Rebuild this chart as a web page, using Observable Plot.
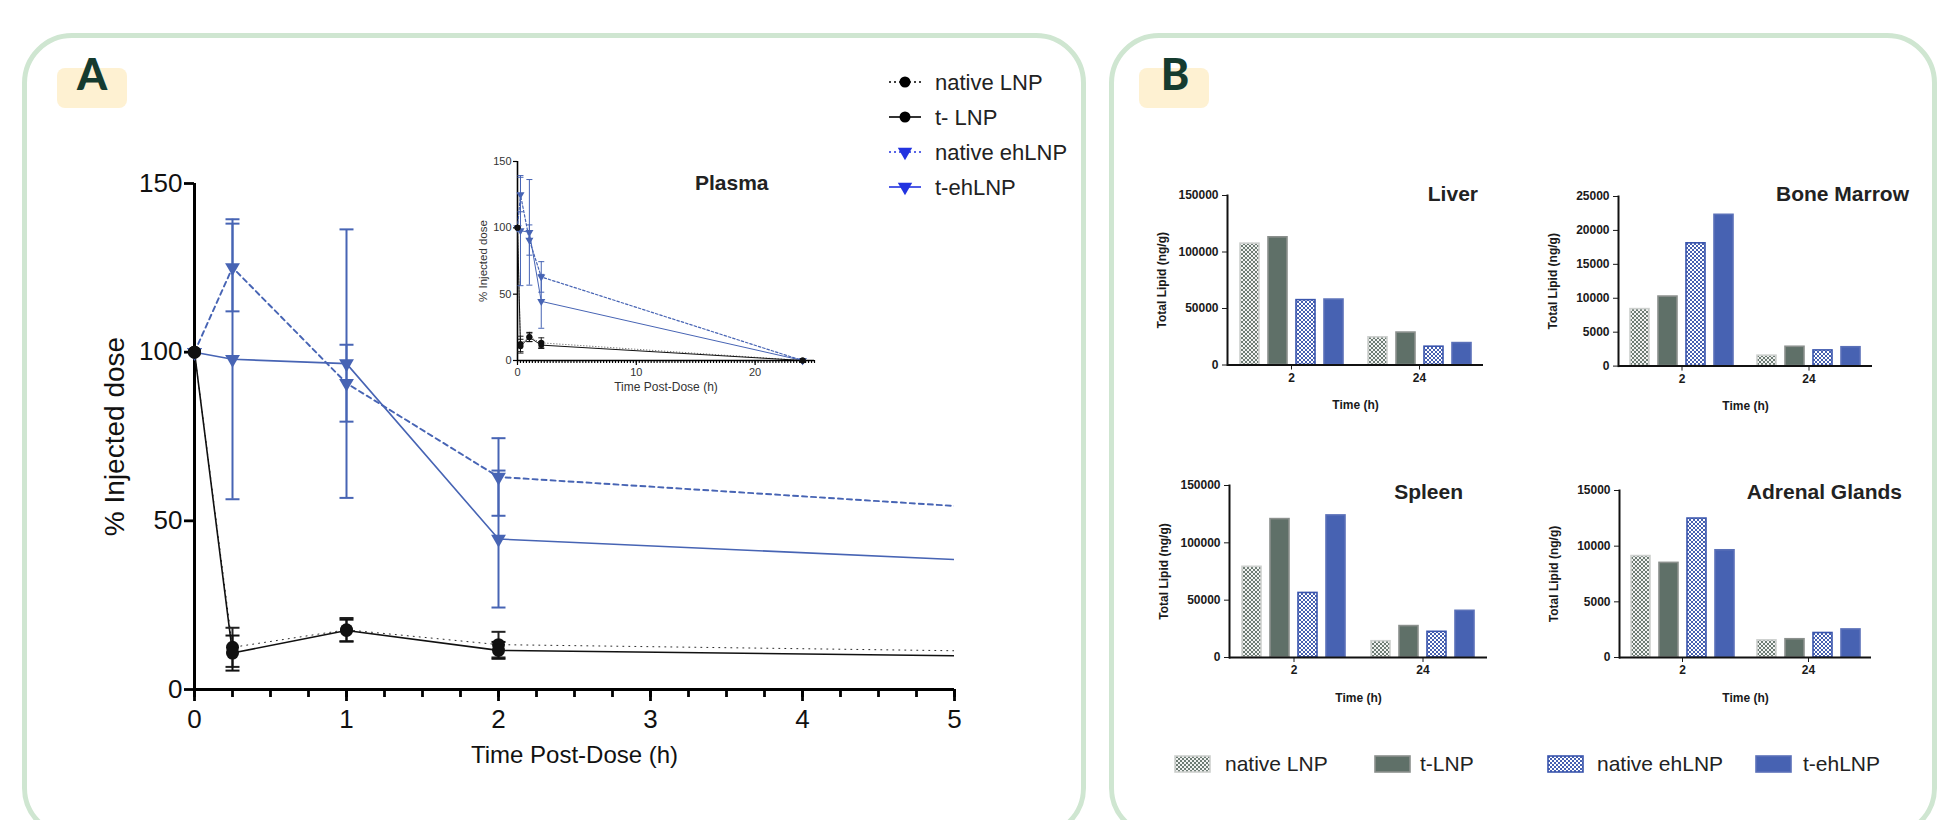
<!DOCTYPE html>
<html><head><meta charset="utf-8">
<script src="https://cdn.jsdelivr.net/npm/d3@7"></script>
<script src="https://cdn.jsdelivr.net/npm/@observablehq/plot@0.6"></script>
<style>
html,body{margin:0;padding:0;background:#fff;}
#page{position:relative;width:1937px;height:820px;overflow:hidden;background:#fff;font-family:"Liberation Sans",Arial,sans-serif;}
.card{position:absolute;border:5px solid #cfe6d1;border-radius:50px;box-sizing:border-box;}
#overlay{position:absolute;left:0;top:0;pointer-events:none;}
</style></head><body><div id="page">
<div class="card" style="left:22px;top:33px;width:1064px;height:805px;"></div>
<div class="card" style="left:1109px;top:33px;width:828px;height:805px;"></div>
</div>
<script>
// ---------- Panel A data (plasma PK) ----------
const timeA = [0, 0.25, 1, 2, 24];
const seriesA = ["native LNP", "t- LNP", "native ehLNP", "t-ehLNP"];
const nativeLNP    = [100, 12.5, 17.7, 13.3, 0];
const nativeLNP_sd = [0, 5.8, 3.5, 3.8, 0];
const tLNP         = [100, 10.8, 17.5, 11.6, 0];
const tLNP_sd      = [0, 5.2, 3.2, 2.5, 0];
const nativeEhLNP    = [100, 125.1, 90.8, 63.0, 0];
const nativeEhLNP_sd = [0, 13.0, 11.4, 11.5, 0];
const tEhLNP         = [100, 97.9, 96.6, 44.6, 0];
const tEhLNP_sd      = [0, 41.5, 39.8, 20.3, 0];
const yTicksA = [0, 50, 100, 150];
const xTicksMain = [0, 1, 2, 3, 4, 5];
const xTicksInset = [0, 10, 20];

// ---------- Panel B data (tissue lipid, ng/g) ----------
const timesB = ["2", "24"];
const seriesB = ["native LNP", "t-LNP", "native ehLNP", "t-ehLNP"];
const liver_2h  = [107400, 113000, 57400, 57900];
const liver_24h = [24500, 28700, 16200, 19400];
const marrow_2h  = [8400, 10250, 18100, 22300];
const marrow_24h = [1540, 2850, 2310, 2780];
const spleen_2h  = [79100, 120700, 56300, 123900];
const spleen_24h = [14200, 27400, 22400, 40700];
const adrenal_2h  = [9110, 8500, 12480, 9630];
const adrenal_24h = [1540, 1640, 2200, 2520];
const liverTicks = [0, 50000, 100000, 150000];
const marrowTicks = [0, 5000, 10000, 15000, 20000, 25000];
const spleenTicks = [0, 50000, 100000, 150000];
const adrenalTicks = [0, 5000, 10000, 15000];

// ---------- styles ----------
const BLUE = "#4764b4";
const TICK = "#000";
const valuesA = {"native LNP": nativeLNP, "t- LNP": tLNP, "native ehLNP": nativeEhLNP, "t-ehLNP": tEhLNP};
const sdA = {"native LNP": nativeLNP_sd, "t- LNP": tLNP_sd, "native ehLNP": nativeEhLNP_sd, "t-ehLNP": tEhLNP_sd};
const styleA = {
  "native LNP": {color: "#222", dash: "1,5", w: 0.6, tri: false},
  "t- LNP": {color: "#111", dash: null, w: 1, tri: false},
  "native ehLNP": {color: BLUE, dash: "5,4", w: 1.2, tri: true},
  "t-ehLNP": {color: BLUE, dash: null, w: 1, tri: true}
};
const barFill = {"native LNP": "url(#chkGrey)", "t-LNP": "#5f7068", "native ehLNP": "url(#chkBlue)", "t-ehLNP": "#4762b2"};
const barStroke = {"native LNP": "#cdd0ce", "t-LNP": "#8b908d", "native ehLNP": "#3a55ad", "t-ehLNP": "#5a70b8"};

const capSymbol = {draw(ctx, size) { const r = Math.sqrt(size / Math.PI); ctx.moveTo(-r, 0); ctx.lineTo(r, 0); }};

const page = document.getElementById("page");
function place(node, left, top) {
  node.style.position = "absolute"; node.style.left = left + "px"; node.style.top = top + "px";
  page.appendChild(node);
}

const W = 1937, H = 820;
const overlay = d3.create("svg").attr("id", "overlay").attr("width", W).attr("height", H);
const defs = overlay.append("defs");
function checker(id, dark, light) {
  const p = defs.append("pattern").attr("id", id).attr("width", 4).attr("height", 4).attr("patternUnits", "userSpaceOnUse");
  p.append("rect").attr("width", 4).attr("height", 4).attr("fill", light);
  p.append("rect").attr("width", 2).attr("height", 2).attr("fill", dark);
  p.append("rect").attr("x", 2).attr("y", 2).attr("width", 2).attr("height", 2).attr("fill", dark);
}
checker("chkGrey", "#6d7c74", "#f2f3f2");
checker("chkBlue", "#4660b0", "#ffffff");

function pkPlot(c) {
  const rows = seriesA.flatMap(s => timeA.map((t, i) => ({series: s, t, v: valuesA[s][i], sd: sdA[s][i]})));
  const minorTicks = d3.range(0, c.xmax + 0.001, 0.25);
  const marks = [
    Plot.ruleY([0], {stroke: "#000", strokeWidth: c.axisW}),
    Plot.ruleX([0], {stroke: "#000", strokeWidth: c.axisW}),
    Plot.axisX(minorTicks, {tickSize: c.xMinor, strokeWidth: c.tickW, stroke: TICK, fill: "none", tickFormat: () => "", label: null}),
    Plot.axisY(yTicksA, {tickSize: c.yTick, tickPadding: c.yPad, strokeWidth: c.tickW, stroke: TICK, fontSize: c.tickFont, label: null, fill: c.tickColor, tickFormat: d => String(d)}),
    Plot.axisX(c.majorX, {tickSize: c.xTick, tickPadding: c.xPad, strokeWidth: c.tickW, stroke: TICK, fontSize: c.tickFont, label: null, fill: c.tickColor, tickFormat: d => String(d)})
  ];
  const order = ["native ehLNP", "t-ehLNP", "native LNP", "t- LNP"];
  order.forEach(s => {
    const st = styleA[s];
    marks.push(Plot.line(rows.filter(d => d.series === s), {
      x: "t", y: "v", stroke: st.color, strokeWidth: c.lw * st.w,
      strokeDasharray: st.dash ? st.dash.split(",").map(v => v * c.dashK).join(",") : null, clip: true
    }));
  });
  order.forEach(s => {
    const st = styleA[s];
    const r = rows.filter(d => d.series === s && d.sd > 0 && d.t <= c.xmax);
    marks.push(Plot.ruleX(r, {x: "t", y1: d => d.v - d.sd, y2: d => d.v + d.sd, stroke: st.color, strokeWidth: c.ebW}));
    marks.push(Plot.dot(r, {x: "t", y: d => d.v - d.sd, symbol: capSymbol, r: c.capR, stroke: st.color, strokeWidth: c.ebW, fill: "none"}));
    marks.push(Plot.dot(r, {x: "t", y: d => d.v + d.sd, symbol: capSymbol, r: c.capR, stroke: st.color, strokeWidth: c.ebW, fill: "none"}));
  });
  order.forEach(s => {
    const st = styleA[s];
    const r = rows.filter(d => d.series === s && d.t <= c.xmax);
    if (st.tri) marks.push(Plot.dot(r, {x: "t", y: "v", symbol: "triangle", rotate: 180, r: c.triR, fill: st.color, stroke: "none"}));
    else marks.push(Plot.dot(r, {x: "t", y: "v", symbol: "circle", r: c.dotR, fill: "#111", stroke: "none"}));
  });
  marks.push(Plot.text(["% Injected dose"], {frameAnchor: "left", rotate: -90, dx: c.yLabDx, fontSize: c.yLabFont, lineAnchor: "middle", textAnchor: "middle", fill: c.labColor}));
  marks.push(Plot.text(["Time Post-Dose (h)"], {frameAnchor: "bottom", dy: c.xLabDy, fontSize: c.xLabFont, lineAnchor: "middle", textAnchor: "middle", fill: c.labColor}));
  if (c.title) marks.push(Plot.text([c.title], {frameAnchor: "top-right", dx: c.titleDx, dy: c.titleDy, textAnchor: "end", lineAnchor: "middle", fontSize: c.titleFont, fontWeight: "bold", fill: "#222"}));
  return Plot.plot({
    width: c.w, height: c.h, marginLeft: c.ml, marginRight: c.mr, marginTop: c.mt, marginBottom: c.mb,
    x: {domain: [0, c.xmax]}, y: {domain: [0, 150]},
    style: {fontFamily: "'Liberation Sans', Arial, sans-serif", color: "#000", background: "transparent", overflow: "visible"},
    marks
  });
}

const mainA = pkPlot({
  w: 920, h: 640, ml: 134, mr: 26, mt: 33, mb: 101, xmax: 5, majorX: xTicksMain,
  axisW: 3, tickW: 2.8, yTick: 10, yPad: 2, xTick: 12, xPad: 8, xMinor: 8, tickFont: 26, tickColor: "#111",
  lw: 1.6, dashK: 1, ebW: 2, capR: 7, dotR: 6.5, triR: 5.5,
  yLabDx: -79, yLabFont: 28, xLabDy: 66, xLabFont: 24, labColor: "#111"
});
place(mainA, 60, 150);

const inset = pkPlot({
  w: 400, h: 270, ml: 77, mr: 26, mt: 21, mb: 50, xmax: 25, majorX: xTicksInset,
  axisW: 1.6, tickW: 1.2, yTick: 4, yPad: 2, xTick: 5, xPad: 3, xMinor: 3, tickFont: 11, tickColor: "#333",
  lw: 1, dashK: 0.5, ebW: 1, capR: 3, dotR: 3, triR: 3,
  yLabDx: -34, yLabFont: 11.5, xLabDy: 27, xLabFont: 12, labColor: "#333",
  title: "Plasma", titleDx: -46, titleDy: 22, titleFont: 21
});
place(inset, 440, 140);

// ---------- Panel B plots ----------
function organPlot(v2, v24, ticks, g) {
  const rows = [];
  seriesB.forEach((s, i) => { rows.push({time: "2", series: s, value: v2[i]}); rows.push({time: "24", series: s, value: v24[i]}); });
  return Plot.plot({
    width: 400, height: 270, marginLeft: 102, marginRight: g.mr, marginTop: g.mt, marginBottom: g.mb,
    fx: {domain: timesB, padding: 0, label: "Time (h)", labelAnchor: "center", labelOffset: 44, tickSize: 5, tickPadding: 3, axis: "bottom"},
    x: {domain: seriesB, axis: null, paddingInner: 0.336, paddingOuter: 0.406},
    y: {domain: [0, ticks[ticks.length - 1]], ticks: ticks, tickSize: 5, tickPadding: 4, tickFormat: d => String(d),
        label: "Total Lipid (ng/g)", labelAnchor: "center", labelOffset: 70, labelArrow: "none"},
    style: {fontFamily: "'Liberation Sans', Arial, sans-serif", fontWeight: "bold", fontSize: "12px", color: "#1a1a1a", background: "transparent", overflow: "visible"},
    marks: [
      ...seriesB.map(s => Plot.barY(rows.filter(d => d.series === s), {fx: "time", x: "series", y: "value", fill: barFill[s], stroke: barStroke[s], strokeWidth: 1.6})),
      Plot.ruleY([0], {stroke: "#111", strokeWidth: 2}),
      Plot.frame({anchor: "left", facetAnchor: "left", stroke: "#111", strokeWidth: 2})
    ]
  });
}
place(organPlot(liver_2h, liver_24h, liverTicks, {mr: 42, mt: 30, mb: 70.5}), 1125, 165);
place(organPlot(marrow_2h, marrow_24h, marrowTicks, {mr: 43, mt: 31, mb: 69.4}), 1515, 165);
place(organPlot(spleen_2h, spleen_24h, spleenTicks, {mr: 40, mt: 30, mb: 68}), 1127, 455);
place(organPlot(adrenal_2h, adrenal_24h, adrenalTicks, {mr: 45, mt: 35, mb: 68}), 1516, 455);

// ---------- overlay: badges, titles, legends ----------
function badge(x, y, letter, lx) {
  overlay.append("rect").attr("x", x).attr("y", y).attr("width", 70).attr("height", 40).attr("rx", 8).attr("fill", "#fef1d2");
  overlay.append("text").attr("x", lx).attr("y", 90).attr("text-anchor", "middle")
    .attr("font-family", "Lato, 'Open Sans', sans-serif").attr("font-weight", 900).attr("font-size", 43).attr("fill", "#153b2f").text(letter);
}
badge(57, 68, "A", 92);
badge(1139, 68, "B", 1175);

const organTitles = [["Liver", 1478, 194], ["Bone Marrow", 1909, 194], ["Spleen", 1463, 492], ["Adrenal Glands", 1902, 492]];
organTitles.forEach(([t, x, y]) => overlay.append("text").attr("x", x).attr("y", y).attr("dy", "0.35em").attr("text-anchor", "end")
  .attr("font-family", "'Liberation Sans', Arial, sans-serif").attr("font-weight", "bold").attr("font-size", 21).attr("fill", "#222").text(t));

// legend A
const legBlue = "#2233e0";
const legA = [
  {label: "native LNP", color: "#000", dash: "2,3", tri: false},
  {label: "t- LNP", color: "#000", dash: null, tri: false},
  {label: "native ehLNP", color: legBlue, dash: "2,3", tri: true},
  {label: "t-ehLNP", color: legBlue, dash: null, tri: true}
];
const legY = [82, 117, 152, 187];
legA.forEach((d, i) => {
  const y = legY[i];
  overlay.append("line").attr("x1", 889).attr("x2", 921).attr("y1", y).attr("y2", y).attr("stroke", d.color).attr("stroke-width", 1.6).attr("stroke-dasharray", d.dash);
  if (d.tri) overlay.append("path").attr("d", d3.symbol(d3.symbolTriangle, 90)()).attr("transform", `translate(905,${y}) rotate(180)`).attr("fill", d.color);
  else overlay.append("circle").attr("cx", 905).attr("cy", y).attr("r", 5.5).attr("fill", d.color);
  overlay.append("text").attr("x", 935).attr("y", y).attr("dy", "0.35em").attr("font-family", "'Liberation Sans', Arial, sans-serif").attr("font-size", 22).attr("fill", "#222").text(d.label);
});

// legend B
const legBx = [[1175, 1225], [1375, 1420], [1548, 1597], [1756, 1803]];
seriesB.forEach((s, i) => {
  const [sx, tx] = legBx[i];
  overlay.append("rect").attr("x", sx).attr("y", 756).attr("width", 35).attr("height", 16).attr("fill", barFill[s]).attr("stroke", barStroke[s]).attr("stroke-width", 1.6);
  overlay.append("text").attr("x", tx).attr("y", 764).attr("dy", "0.35em").attr("font-family", "'Liberation Sans', Arial, sans-serif").attr("font-size", 21).attr("fill", "#222").text(s);
});

page.appendChild(overlay.node());
</script>
</body></html>
